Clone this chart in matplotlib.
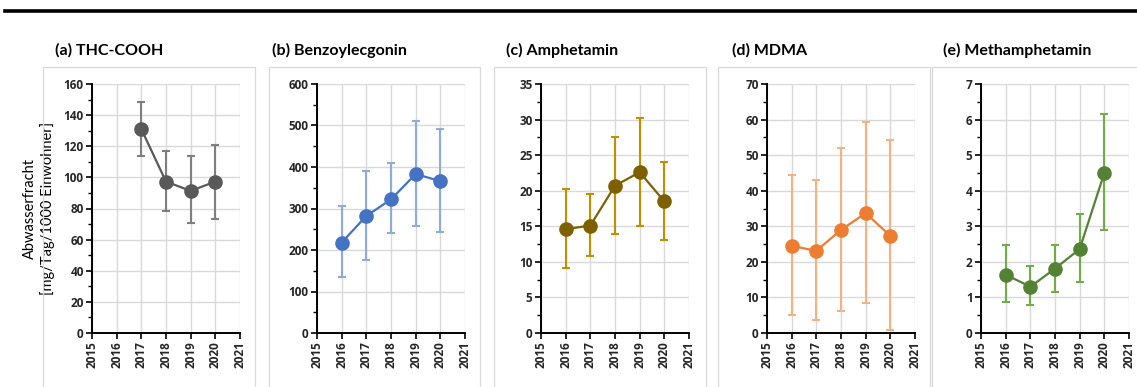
import matplotlib
matplotlib.use("Agg")
import matplotlib.pyplot as plt
import numpy as np
from matplotlib.lines import Line2D
from matplotlib.patches import Rectangle
from matplotlib.ticker import AutoMinorLocator

plt.rcParams["font.family"] = ["Lato", "DejaVu Sans"]

# --- data ----------------------------------------------------------------
titles = ["(a) THC-COOH", "(b) Benzoylecgonin", "(c) Amphetamin", "(d) MDMA", "(e) Methamphetamin"]

years_a = [2017, 2018, 2019, 2020]
mean_a = [131, 97.3, 91.3, 97.3]
upper_a = [148.6, 117, 113.6, 121]
lower_a = [114, 78.4, 70.7, 73.5]

years_b = [2016, 2017, 2018, 2019, 2020]
mean_b = [218, 282, 322, 383, 366]
upper_b = [306, 390, 409, 510, 491]
lower_b = [134, 176, 242, 258, 244]

years_c = [2016, 2017, 2018, 2019, 2020]
mean_c = [14.6, 15.1, 20.7, 22.6, 18.5]
upper_c = [20.2, 19.6, 27.5, 30.2, 24.0]
lower_c = [9.2, 10.8, 13.85, 15.1, 13.1]

years_d = [2016, 2017, 2018, 2019, 2020]
mean_d = [24.5, 23.1, 29.0, 33.7, 27.3]
upper_d = [44.3, 43.0, 52.0, 59.4, 54.3]
lower_d = [5.2, 3.6, 6.1, 8.4, 0.9]

years_e = [2016, 2017, 2018, 2019, 2020]
mean_e = [1.64, 1.30, 1.81, 2.36, 4.50]
upper_e = [2.46, 1.87, 2.48, 3.35, 6.16]
lower_e = [0.88, 0.79, 1.15, 1.44, 2.89]

y_max = [160, 600, 35, 70, 7]
y_step = [20, 100, 5, 10, 1]
x_ticks = [2015, 2016, 2017, 2018, 2019, 2020, 2021]

line_colors = ["#595959", "#4472C4", "#7F6000", "#ED7D31", "#548235"]
err_colors = ["#7F7F7F", "#8FAADC", "#BF9000", "#F4B183", "#70AD47"]

series = [
    (years_a, mean_a, upper_a, lower_a),
    (years_b, mean_b, upper_b, lower_b),
    (years_c, mean_c, upper_c, lower_c),
    (years_d, mean_d, upper_d, lower_d),
    (years_e, mean_e, upper_e, lower_e),
]

# --- layout (pixels of the 1137x387 reference) ---------------------------
W, H = 1137, 387
axes_left = [92, 317, 541, 767, 981]
axes_w = 148
axes_top, axes_bottom = 84, 333
box_left = [43, 269, 494, 718, 932]
box_right = [255, 480, 706, 930, 1150]
box_top = 67
title_x = [55, 272, 506, 732, 943]

tick_font = dict(family="Open Sans", weight="bold", size=8.5)

fig = plt.figure(figsize=(W / 100, H / 100), dpi=100)

# black rule across the top
fig.add_artist(Line2D([5 / W, 1.0], [1 - 11 / H, 1 - 11 / H], color="black", lw=2.6,
                      transform=fig.transFigure))

for i, (yrs, mean, up, lo) in enumerate(series):
    # light chart-area frame
    fig.add_artist(Rectangle((box_left[i] / W, -0.05), (box_right[i] - box_left[i]) / W,
                             1 - box_top / H + 0.05, transform=fig.transFigure,
                             fill=False, edgecolor="#D9D9D9", lw=0.9))
    fig.text(title_x[i] / W, 1 - 50 / H, titles[i], fontsize=11.5, fontweight="bold",
             ha="left", va="center", color="black")

    ax = fig.add_axes([axes_left[i] / W, 1 - axes_bottom / H, axes_w / W,
                       (axes_bottom - axes_top) / H])
    yerr = [[m - l for m, l in zip(mean, lo)], [u - m for m, u in zip(mean, up)]]
    ax.errorbar(yrs, mean, yerr=yerr, fmt="none", ecolor=err_colors[i], elinewidth=1.5,
                capsize=3, capthick=1.5, zorder=2)
    ax.plot(yrs, mean, color=line_colors[i], lw=1.6, marker="o", markersize=9.5,
            zorder=3)

    ax.set_xlim(2015, 2021)
    ax.set_ylim(0, y_max[i])
    ax.set_xticks(x_ticks)
    ax.set_xticklabels([str(x) for x in x_ticks], rotation=90, fontdict=tick_font)
    yt = np.arange(0, y_max[i] + y_step[i] / 2, y_step[i])
    ax.set_yticks(yt)
    ax.set_yticklabels([f"{v:g}" for v in yt], fontdict=tick_font)
    ax.yaxis.set_minor_locator(AutoMinorLocator(2))
    ax.grid(True, color="#D9D9D9", lw=1.0, zorder=0)
    ax.set_axisbelow(True)
    for side in ("top", "right"):
        ax.spines[side].set_visible(False)
    for side in ("left", "bottom"):
        ax.spines[side].set_linewidth(1.4)
        ax.spines[side].set_color("black")
    ax.tick_params(axis="both", which="major", length=4, width=1.2, direction="out",
                   pad=2, labelcolor="#262626")
    ax.tick_params(axis="y", which="minor", length=3, width=1.0)

    if i == 0:
        ax.set_ylabel("Abwasserfracht\n[mg/Tag/1000 Einwohner]", fontsize=10.5,
                      color="black", labelpad=6, linespacing=1.3)

fig.savefig("out.png", dpi=100)
